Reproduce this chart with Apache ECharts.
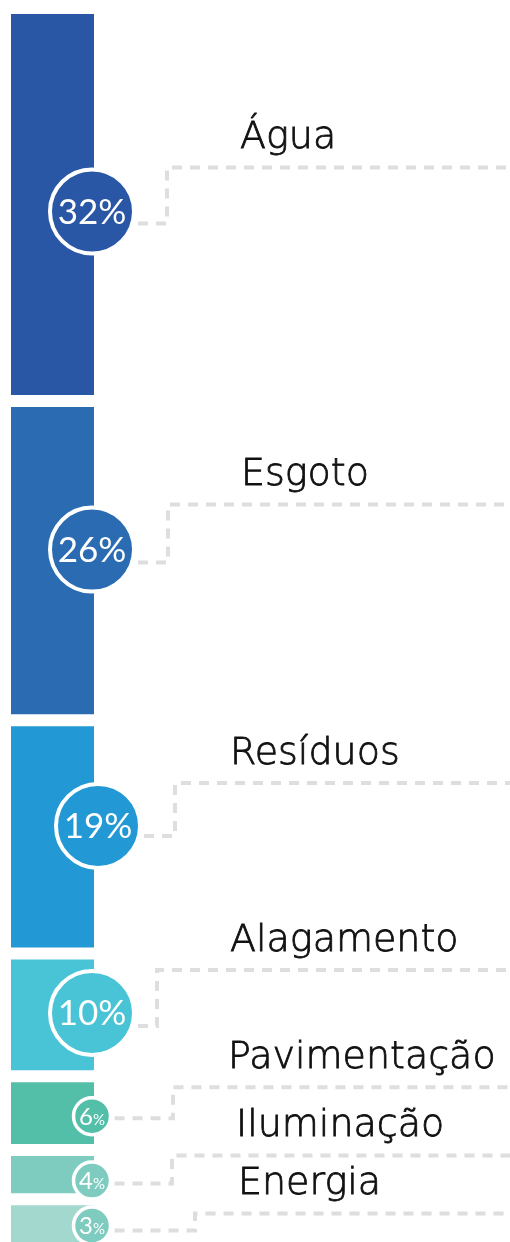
<!DOCTYPE html>
<html>
<head>
<meta charset="utf-8">
<script src="https://cdn.jsdelivr.net/npm/echarts@6/dist/echarts.min.js"></script>
<style>
  html, body { margin: 0; padding: 0; background: #fff; }
  #chart { width: 510px; height: 1242px; }
</style>
</head>
<body>
<div id="chart"></div>
<script>
// dados
const categories = ['Água', 'Esgoto', 'Resíduos', 'Alagamento', 'Pavimentação', 'Iluminação', 'Energia'];
const values = [32, 26, 19, 10, 6, 4, 3];

const barColors = ['#2A56A6', '#2A6BB2', '#2298D5', '#48C4D6', '#53BFA9', '#7ECBBF', '#A3D8CE'];
const badgeColors = ['#2A56A6', '#2A6BB2', '#2298D5', '#48C4D6', '#53BFA9', '#7ECBBF', '#7ECBBF'];

// ajustes de layout por item (px)
const badgeShift = [[0, 7], [0, -11], [6, -11], [0, -2], [0, 3], [0, 6], [0, 2]];
const labelRise = [44, 45, 43, 43, 29, 25, 12];
const lineDrop = [12, 13, 10, 13, 2, 3, 5];
const elbowOffset = [73, 74, 81, 63, 79, 78, 101];
const labelOffset = [146, 147, 136, 136, 134, 142, 144];
const GAP = 12;

let acc = 0;
const stacked = values.map(function (v, i) {
  const s = acc;
  acc += v;
  return [0, s, acc, i];
});

function renderItem(params, api) {
  const i = api.value(3);
  const top = api.coord([0, api.value(1)]);
  const bot = api.coord([0, api.value(2)]);
  const band = api.size([1, 0])[0];
  const x0 = top[0] - band / 2;
  const right = x0 + band;
  const y0 = top[1];
  const y1 = bot[1] - (i < values.length - 1 ? GAP : 0);

  const big = values[i] >= 10;
  const R = big ? 42 : 18.5;
  const cx = right - 2 + badgeShift[i][0];
  const cy = (y0 + y1) / 2 + badgeShift[i][1];
  const elbow = right + elbowOffset[i];
  const lineY = cy - labelRise[i];
  const width = api.getWidth();

  const pctText = big
    ? '{n|' + values[i] + '%}'
    : '{n|' + values[i] + '}{p|%}';

  return {
    type: 'group',
    children: [
      {
        type: 'rect',
        shape: { x: x0, y: y0, width: band, height: y1 - y0 },
        style: { fill: barColors[i] },
        z2: 1
      },
      {
        type: 'polyline',
        shape: {
          points: [
            [cx + R + 4, cy + lineDrop[i]],
            [elbow, cy + lineDrop[i]],
            [elbow, lineY],
            [width, lineY]
          ]
        },
        style: { stroke: '#DEDEE0', lineWidth: 4, lineDash: [10, 8], fill: null },
        z2: 2
      },
      {
        type: 'circle',
        shape: { cx: cx, cy: cy, r: R },
        style: { fill: badgeColors[i], stroke: '#fff', lineWidth: big ? 4 : 3.5 },
        z2: 5
      },
      {
        type: 'text',
        x: cx,
        y: cy + 1,
        style: {
          text: pctText,
          align: 'center',
          verticalAlign: 'middle',
          fill: '#fff',
          rich: {
            n: { fontFamily: 'Lato', fontSize: big ? 35 : 24, fill: '#fff' },
            p: { fontFamily: 'Lato', fontSize: 15, fill: '#fff', padding: [6, 0, 0, 0] }
          }
        },
        z2: 6
      },
      {
        type: 'text',
        x: right + labelOffset[i],
        y: lineY - 29,
        style: {
          text: categories[i],
          align: 'left',
          verticalAlign: 'middle',
          fontFamily: 'DejaVu Sans',
          fontWeight: 200,
          fontSize: 38,
          fill: '#111',
          stroke: '#111',
          lineWidth: 0.8
        },
        z2: 6
      }
    ]
  };
}

const chart = echarts.init(document.getElementById('chart'));
chart.setOption({
  animation: false,
  grid: { left: 11, top: 14, width: 83, height: 1230 },
  xAxis: { type: 'category', data: ['Total'], show: false },
  yAxis: { type: 'value', min: 0, max: 100, inverse: true, show: false },
  series: [{
    type: 'custom',
    clip: false,
    renderItem: renderItem,
    encode: { x: 0, y: [1, 2] },
    data: stacked
  }]
});
window.addEventListener('resize', function () { chart.resize(); });
</script>
</body>
</html>
